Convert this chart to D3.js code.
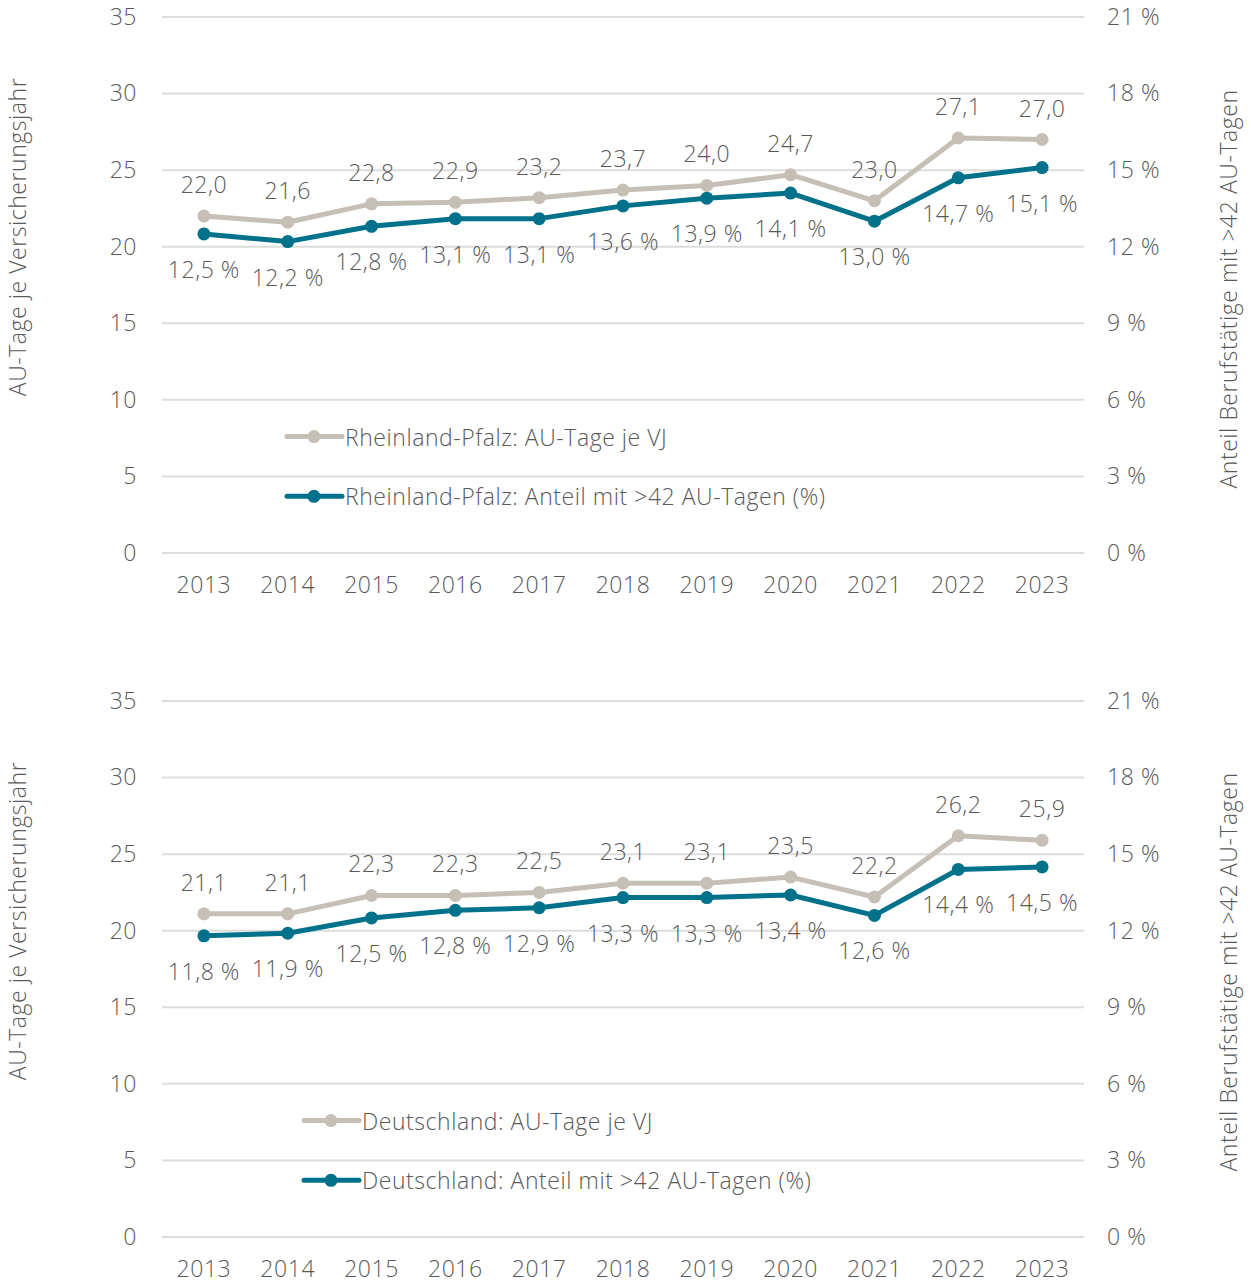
<!DOCTYPE html>
<html><head><meta charset="utf-8">
<script src="https://cdn.jsdelivr.net/npm/d3@7"></script>
<style>
body{margin:0;background:#fff;}
text{font-family:"Open Sans",sans-serif;fill:#595959;font-weight:300;letter-spacing:0.55px;}
</style></head><body>
<svg id="c" width="1251" height="1285"></svg>
<script>
const years = ["2013","2014","2015","2016","2017","2018","2019","2020","2021","2022","2023"];
const leftTicks = [0,5,10,15,20,25,30,35];
const rightTicks = [0,3,6,9,12,15,18,21];
const rpDays = [22.0,21.6,22.8,22.9,23.2,23.7,24.0,24.7,23.0,27.1,27.0];
const rpShare = [12.5,12.2,12.8,13.1,13.1,13.6,13.9,14.1,13.0,14.7,15.1];
const deDays = [21.1,21.1,22.3,22.3,22.5,23.1,23.1,23.5,22.2,26.2,25.9];
const deShare = [11.8,11.9,12.5,12.8,12.9,13.3,13.3,13.4,12.6,14.4,14.5];
const panels = [
  {days:rpDays, share:rpShare, top:17, name:"Rheinland-Pfalz", legX:287, lTitleY:237, rTitleY:289},
  {days:deDays, share:deShare, top:701, name:"Deutschland", legX:304, lTitleY:921, rTitleY:972}
];
const grey="#c6bfb5", teal="#00718a";
const FS="23px";
const svg=d3.select("#c");
const fmt=v=>v.toFixed(1).replace(".",",");
const x=d3.scaleBand().domain(years).range([162,1084]);
const cx=d=>x(d)+x.bandwidth()/2;

panels.forEach(p=>{
  const g=svg.append("g");
  const yL=d3.scaleLinear().domain([0,35]).range([p.top+536,p.top]);
  const yR=d3.scaleLinear().domain([0,21]).range([p.top+536,p.top]);
  g.selectAll(".gl").data(leftTicks).join("line")
    .attr("x1",162).attr("x2",1084).attr("y1",d=>yL(d)).attr("y2",d=>yL(d))
    .attr("stroke","#dcdcdc").attr("stroke-width",2);
  const la=g.append("g").attr("transform","translate(162,0)")
    .call(d3.axisLeft(yL).tickValues(leftTicks).tickSize(0).tickPadding(25));
  la.select(".domain").remove();
  la.selectAll("text").style("font-size",FS).attr("fill","#595959");
  const ra=g.append("g").attr("transform","translate(1084,0)")
    .call(d3.axisRight(yR).tickValues(rightTicks).tickSize(0).tickPadding(23).tickFormat(d=>d+" %"));
  ra.select(".domain").remove();
  ra.selectAll("text").style("font-size",FS).attr("fill","#595959");
  const xa=g.append("g").attr("transform",`translate(0,${p.top+536})`)
    .call(d3.axisBottom(x).tickSize(0).tickPadding(24));
  xa.select(".domain").remove();
  xa.selectAll("text").style("font-size",FS).attr("fill","#595959");
  g.append("text").attr("transform",`translate(26,${p.lTitleY}) rotate(-90)`)
    .attr("text-anchor","middle").style("font-size",FS).text("AU-Tage je Versicherungsjahr");
  g.append("text").attr("transform",`translate(1237,${p.rTitleY}) rotate(-90)`)
    .attr("text-anchor","middle").style("font-size",FS).text("Anteil Berufstätige mit >42 AU-Tagen");
  const lineL=d3.line().x((d,i)=>cx(years[i])).y(d=>yL(d));
  const lineR=d3.line().x((d,i)=>cx(years[i])).y(d=>yR(d));
  g.append("path").attr("d",lineL(p.days)).attr("fill","none").attr("stroke",grey).attr("stroke-width",5).attr("stroke-linejoin","round");
  g.append("path").attr("d",lineR(p.share)).attr("fill","none").attr("stroke",teal).attr("stroke-width",5).attr("stroke-linejoin","round");
  g.selectAll(".pg").data(p.days).join("circle").attr("cx",(d,i)=>cx(years[i])).attr("cy",d=>yL(d)).attr("r",6.5).attr("fill",grey);
  g.selectAll(".pt").data(p.share).join("circle").attr("cx",(d,i)=>cx(years[i])).attr("cy",d=>yR(d)).attr("r",6.5).attr("fill",teal);
  g.selectAll(".lg").data(p.days).join("text").attr("x",(d,i)=>cx(years[i])).attr("y",d=>yL(d)-32)
    .attr("text-anchor","middle").attr("dominant-baseline","central").style("font-size",FS).text(d=>fmt(d));
  g.selectAll(".lt").data(p.share).join("text").attr("x",(d,i)=>cx(years[i])).attr("y",d=>yR(d)+35)
    .attr("text-anchor","middle").attr("dominant-baseline","central").style("font-size",FS).text(d=>fmt(d)+" %");
  const legItems=[{c:grey,t:p.name+": AU-Tage je VJ",y:yL(7.6)},{c:teal,t:p.name+": Anteil mit >42 AU-Tagen (%)",y:yL(3.7)}];
  legItems.forEach(l=>{
    g.append("line").attr("x1",p.legX).attr("x2",p.legX+55).attr("y1",l.y).attr("y2",l.y).attr("stroke",l.c).attr("stroke-width",5).attr("stroke-linecap","round");
    g.append("circle").attr("cx",p.legX+27).attr("cy",l.y).attr("r",6.5).attr("fill",l.c);
    g.append("text").attr("x",p.legX+58).attr("y",l.y).attr("dominant-baseline","central").style("font-size",FS).text(l.t);
  });
});
</script></body></html>
